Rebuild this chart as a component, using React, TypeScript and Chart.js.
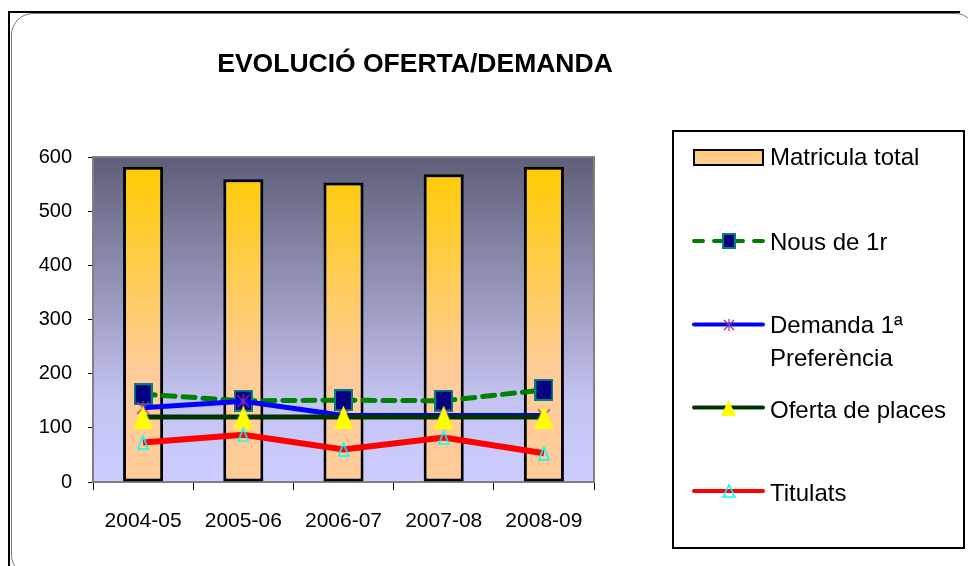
import React, { useEffect, useRef } from "react";
import { Chart, registerables } from "chart.js";

Chart.register(...registerables);

const categories = ["2004-05", "2005-06", "2006-07", "2007-08", "2008-09"];
const matricula = [582, 559, 553, 568, 582];
const nous = [162, 150, 151, 150, 170];
const demanda = [137, 149, 123, 123, 123];
const oferta = [120, 120, 120, 120, 120];
const titulats = [73, 87, 60, 82, 53];
const yTicks = [0, 100, 200, 300, 400, 500, 600];
const titleText = "EVOLUCIÓ OFERTA/DEMANDA";
const legendLabels = ["Matricula total", "Nous de 1r", "Demanda 1ª", "Preferència", "Oferta de places", "Titulats"];

const FONT = "'Liberation Sans', Arial, sans-serif";

function mk(w: number, h: number, draw: (ctx: CanvasRenderingContext2D) => void) {
  const c = document.createElement("canvas");
  c.width = w;
  c.height = h;
  const ctx = c.getContext("2d")!;
  draw(ctx);
  return c;
}
const squareM = (w: number, h: number) =>
  mk(w, h, (ctx) => {
    ctx.fillStyle = "#008080";
    ctx.fillRect(0, 0, w, h);
    ctx.fillStyle = "#000080";
    ctx.fillRect(2, 2, w - 4, h - 4);
  });
const starM = (s: number) =>
  mk(s, s, (ctx) => {
    ctx.strokeStyle = "#993399";
    ctx.lineWidth = 1.2;
    ctx.beginPath();
    ctx.moveTo(1, 1);
    ctx.lineTo(s - 1, s - 1);
    ctx.moveTo(s - 1, 1);
    ctx.lineTo(1, s - 1);
    ctx.moveTo(s / 2, 0);
    ctx.lineTo(s / 2, s);
    ctx.stroke();
  });
const triFill = (w: number, h: number) =>
  mk(w, h, (ctx) => {
    ctx.fillStyle = "#FFFF00";
    ctx.beginPath();
    ctx.moveTo(w / 2, 0);
    ctx.lineTo(w, h);
    ctx.lineTo(0, h);
    ctx.closePath();
    ctx.fill();
  });
const triOutline = (w: number, h: number) =>
  mk(w, h, (ctx) => {
    ctx.strokeStyle = "#00FFFF";
    ctx.lineWidth = 1.6;
    ctx.beginPath();
    ctx.moveTo(w / 2, 1);
    ctx.lineTo(w - 1, h - 1);
    ctx.lineTo(1, h - 1);
    ctx.closePath();
    ctx.stroke();
  });

export default function App() {
  const ref = useRef<HTMLCanvasElement | null>(null);

  useEffect(() => {
    const canvas = ref.current!;
    const sqBig = squareM(19, 22);
    const starBig = starM(14);
    const triBig = triFill(19, 23);
    const triOBig = triOutline(12, 15);
    const sqLeg = squareM(14, 16);
    const starLeg = starM(12);
    const triLeg = triFill(15, 16);
    const triOLeg = triOutline(14, 14);

    const framePlugin = {
      id: "framePlugin",
      beforeDatasetsDraw(chart: any) {
        const { ctx, chartArea: ca } = chart;
        ctx.save();
        const g = ctx.createLinearGradient(0, ca.top, 0, ca.bottom);
        g.addColorStop(0, "#5E5E78");
        g.addColorStop(0.75, "#C4C4F2");
        g.addColorStop(1, "#CCCCFF");
        ctx.fillStyle = g;
        ctx.fillRect(ca.left, ca.top, ca.right - ca.left, ca.bottom - ca.top);
        ctx.strokeStyle = "#808080";
        ctx.lineWidth = 2;
        ctx.strokeRect(ca.left, ca.top, ca.right - ca.left, ca.bottom - ca.top);
        ctx.restore();
      },
      afterDraw(chart: any) {
        const ctx = chart.ctx as CanvasRenderingContext2D;
        ctx.save();
        // title
        ctx.fillStyle = "#000";
        ctx.font = `bold 26.5px ${FONT}`;
        ctx.textAlign = "center";
        ctx.textBaseline = "alphabetic";
        ctx.fillText(titleText, 415, 72);

        // legend box
        ctx.fillStyle = "#fff";
        ctx.fillRect(672, 130, 293, 419);
        ctx.strokeStyle = "#000";
        ctx.lineWidth = 2;
        ctx.strokeRect(673, 131, 291, 417);

        const x1 = 694, x2 = 763, cx = 728.5;
        const img = (c: HTMLCanvasElement, y: number) => ctx.drawImage(c, Math.round(cx - c.width / 2), Math.round(y - c.height / 2));
        const line = (y: number, color: string, dash: number[] = []) => {
          ctx.save();
          ctx.strokeStyle = color;
          ctx.lineWidth = 4;
          ctx.lineCap = "round";
          ctx.setLineDash(dash);
          ctx.beginPath();
          ctx.moveTo(x1, y);
          ctx.lineTo(x2, y);
          ctx.stroke();
          ctx.restore();
        };
        // Matricula
        const lg = ctx.createLinearGradient(0, 149, 0, 165);
        lg.addColorStop(0, "#FFC870");
        lg.addColorStop(1, "#FFD09C");
        ctx.fillStyle = lg;
        ctx.fillRect(x1, 150, x2 - x1, 15);
        ctx.strokeStyle = "#000";
        ctx.lineWidth = 2;
        ctx.strokeRect(x1, 150, x2 - x1, 15);
        // Nous
        line(241, "#008000", [9, 11]);
        img(sqLeg, 241);
        // Demanda
        line(324.5, "#0000FF");
        img(starLeg, 324.5);
        // Oferta
        line(407.5, "#003300");
        img(triLeg, 408);
        // Titulats
        line(491, "#FF0000");
        img(triOLeg, 491);

        ctx.fillStyle = "#000";
        ctx.font = `24px ${FONT}`;
        ctx.textAlign = "left";
        ctx.fillText(legendLabels[0], 770, 165);
        ctx.fillText(legendLabels[1], 770, 250);
        ctx.fillText(legendLabels[2], 770, 333);
        ctx.fillText(legendLabels[3], 770, 366);
        ctx.fillText(legendLabels[4], 770, 418);
        ctx.fillText(legendLabels[5], 770, 501);
        ctx.restore();
      },
    };

    const barFill = (c: any) => {
      const ca = c.chart.chartArea;
      if (!ca) return "#FFCC66";
      const g = c.chart.ctx.createLinearGradient(0, ca.top, 0, ca.bottom);
      g.addColorStop(0.02, "#FFCC00");
      g.addColorStop(0.65, "#FFCC99");
      g.addColorStop(1, "#FFCC99");
      return g;
    };

    const chart = new Chart(canvas, {
      type: "bar",
      data: {
        labels: categories,
        datasets: [
          {
            type: "bar",
            label: "Matricula total",
            data: matricula,
            backgroundColor: barFill,
            borderColor: "#000",
            borderWidth: 3,
            borderSkipped: false,
            barPercentage: 0.4,
            categoryPercentage: 1,
            order: 10,
          } as any,
          {
            type: "line",
            label: "Nous de 1r",
            data: nous,
            borderColor: "#008000",
            borderWidth: 5,
            borderDash: [12, 8],
            borderCapStyle: "round",
            pointStyle: sqBig,
            pointRadius: 10,
            tension: 0,
            order: 5,
          },
          {
            type: "line",
            label: "Demanda 1ª Preferència",
            data: demanda,
            borderColor: "#0000FF",
            borderWidth: 5,
            pointStyle: starBig,
            pointRadius: 7,
            tension: 0,
            order: 4,
          },
          {
            type: "line",
            label: "Oferta de places",
            data: oferta,
            borderColor: "#003300",
            borderWidth: 5,
            pointStyle: triBig,
            pointRadius: 10,
            tension: 0,
            order: 3,
          },
          {
            type: "line",
            label: "Titulats",
            data: titulats,
            borderColor: "#FF0000",
            borderWidth: 6,
            pointStyle: triOBig,
            pointRadius: 7,
            tension: 0,
            order: 2,
          },
        ],
      },
      options: {
        animation: false,
        responsive: false,
        maintainAspectRatio: false,
        layout: { padding: { top: 157, right: 374, bottom: 0, left: 0 } },
        plugins: { legend: { display: false }, title: { display: false }, tooltip: { enabled: false } },
        scales: {
          x: {
            grid: { display: true, drawOnChartArea: false, drawTicks: true, tickLength: 8, color: "#000", offset: true },
            border: { display: false },
            ticks: { color: "#000", font: { family: FONT, size: 21 }, padding: 19 },
            afterFit: (s: any) => {
              s.height = 84;
            },
          },
          y: {
            min: 0,
            max: 600,
            grid: { display: true, drawOnChartArea: false, drawTicks: true, tickLength: 5, color: "#000" },
            border: { display: false },
            ticks: { color: "#000", font: { family: FONT, size: 20 }, padding: 16 },
            afterBuildTicks: (s: any) => {
              s.ticks = yTicks.map((v) => ({ value: v }));
            },
            afterFit: (s: any) => {
              s.width = 93;
            },
          },
        },
      },
      plugins: [framePlugin],
    });
    return () => chart.destroy();
  }, []);

  return (
    <div style={{ position: "absolute", left: 0, top: 0, width: 968, height: 566, overflow: "hidden", background: "#fff" }}>
      <div style={{ position: "absolute", left: 8, top: 11, width: 950, height: 600, borderTop: "2px solid #000", borderLeft: "2px solid #000" }} />
      <div style={{ position: "absolute", left: 11, top: 13, width: 964, height: 562, border: "1.5px solid #777", borderRadius: 22 }} />
      <canvas ref={ref} width={968} height={566} style={{ position: "absolute", left: 0, top: 0, width: 968, height: 566 }} />
    </div>
  );
}
